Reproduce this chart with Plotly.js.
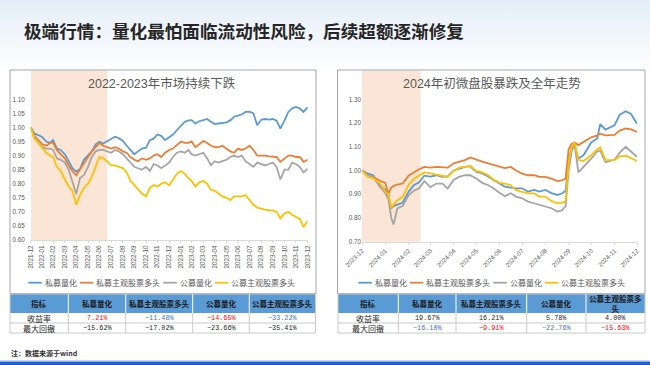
<!DOCTYPE html>
<html><head><meta charset="utf-8">
<script src="https://cdn.plot.ly/plotly-3.0.1.min.js"></script>
<style>
html,body{margin:0;padding:0;width:650px;height:365px;overflow:hidden;
background:linear-gradient(to bottom,#e4edf9 0px,#eef4fb 25px,#f8fafd 55px,#ffffff 75px);}
#chart{width:650px;height:365px;}
</style></head><body><div id="chart"></div>
<script>
// ---------------- DATA ----------------
const seriesNames = ['私募量化','私募主观股票多头','公募量化','公募主观股票多头'];
const pageTitle = '极端行情：量化最怕面临流动性风险，后续超额逐渐修复';
const leftTitle = '2022-2023年市场持续下跌';
const rightTitle = '2024年初微盘股暴跌及全年走势';
const noteText = '注：数据来源于wind';

const leftShade = ['2021-12-31','2022-07-21'];
const rightShade = ['2023-12-29','2024-03-16'];

const leftTickDates = ['2021-12-31','2022-01-31','2022-02-28','2022-03-31','2022-04-30','2022-05-31','2022-06-30','2022-07-31','2022-08-31','2022-09-30','2022-10-31','2022-11-30','2022-12-31','2023-01-31','2023-02-28','2023-03-31','2023-04-30','2023-05-31','2023-06-30','2023-07-31','2023-08-31','2023-09-30','2023-10-31','2023-11-30','2023-12-31'];
const leftTickLabels = ['2021-12','2022-01','2022-02','2022-03','2022-04','2022-05','2022-06','2022-07','2022-08','2022-09','2022-10','2022-11','2022-12','2023-01','2023-02','2023-03','2023-04','2023-05','2023-06','2023-07','2023-08','2023-09','2023-10','2023-11','2023-12'];

const leftDates = ['2021-12-31',
'2022-01-10','2022-01-20','2022-01-31','2022-02-10','2022-02-20','2022-02-28','2022-03-10','2022-03-20','2022-03-31',
'2022-04-10','2022-04-20','2022-04-30','2022-05-10','2022-05-20','2022-05-31','2022-06-10','2022-06-20','2022-06-30',
'2022-07-10','2022-07-20','2022-07-31','2022-08-10','2022-08-20','2022-08-31','2022-09-10','2022-09-20','2022-09-30',
'2022-10-10','2022-10-20','2022-10-31','2022-11-10','2022-11-20','2022-11-30','2022-12-10','2022-12-20','2022-12-31',
'2023-01-10','2023-01-20','2023-01-31','2023-02-10','2023-02-20','2023-02-28','2023-03-10','2023-03-20','2023-03-31',
'2023-04-10','2023-04-20','2023-04-30','2023-05-10','2023-05-20','2023-05-31','2023-06-10','2023-06-20','2023-06-30',
'2023-07-10','2023-07-20','2023-07-31','2023-08-10','2023-08-20','2023-08-31','2023-09-10','2023-09-20','2023-09-30',
'2023-10-10','2023-10-20','2023-10-31','2023-11-10','2023-11-20','2023-11-30','2023-12-10','2023-12-20','2023-12-31'];

const leftPrivQuant = [1.000,0.978,0.973,0.965,0.950,0.945,0.955,0.925,0.920,0.905,
0.880,0.855,0.843,0.852,0.885,0.900,0.915,0.940,0.949,0.943,
0.950,0.958,0.967,0.962,0.952,0.935,0.919,0.905,0.915,0.925,
0.928,0.955,0.960,0.975,0.970,0.955,0.965,0.975,0.990,1.005,
1.020,1.025,1.026,1.014,1.022,1.026,1.030,1.020,1.012,1.014,
1.016,1.018,1.025,1.038,1.042,1.046,1.055,1.056,1.050,1.008,
1.028,1.030,1.028,1.030,1.024,0.996,1.025,1.055,1.068,1.073,
1.068,1.055,1.0721];
const leftPrivStock = [1.000,0.970,0.955,0.940,0.935,0.945,0.945,0.920,0.905,0.890,
0.865,0.845,0.830,0.850,0.870,0.895,0.915,0.930,0.945,0.935,
0.930,0.925,0.930,0.925,0.915,0.910,0.895,0.885,0.880,0.890,
0.885,0.890,0.900,0.905,0.895,0.910,0.920,0.925,0.937,0.950,
0.945,0.945,0.950,0.930,0.940,0.952,0.945,0.935,0.930,0.930,
0.935,0.925,0.915,0.910,0.925,0.920,0.925,0.935,0.920,0.900,
0.900,0.900,0.897,0.895,0.895,0.878,0.890,0.900,0.900,0.895,
0.895,0.878,0.8852];
const leftPubQuant = [1.000,0.965,0.950,0.930,0.925,0.925,0.920,0.890,0.885,0.875,
0.850,0.810,0.7634,0.820,0.830,0.860,0.895,0.915,0.920,0.920,
0.915,0.910,0.920,0.915,0.905,0.890,0.875,0.860,0.855,0.850,
0.860,0.845,0.870,0.865,0.855,0.865,0.875,0.895,0.910,0.915,
0.910,0.920,0.905,0.900,0.905,0.910,0.890,0.866,0.880,0.875,
0.880,0.885,0.895,0.900,0.895,0.900,0.880,0.870,0.860,0.875,
0.870,0.865,0.870,0.875,0.860,0.815,0.850,0.850,0.875,0.870,
0.860,0.840,0.8535];
const leftPubStock = [1.000,0.960,0.945,0.925,0.910,0.900,0.895,0.860,0.845,0.815,
0.790,0.775,0.725,0.760,0.785,0.800,0.825,0.860,0.895,0.890,
0.880,0.865,0.865,0.860,0.855,0.840,0.810,0.795,0.780,0.765,
0.755,0.785,0.795,0.790,0.800,0.805,0.795,0.815,0.835,0.845,
0.835,0.820,0.810,0.790,0.805,0.810,0.800,0.778,0.775,0.765,
0.755,0.750,0.742,0.755,0.755,0.755,0.760,0.740,0.725,0.715,
0.710,0.708,0.705,0.705,0.700,0.677,0.695,0.700,0.690,0.683,
0.675,0.646,0.6678];

const rightTickDates = ['2023-12-29','2024-01-29','2024-02-29','2024-03-29','2024-04-29','2024-05-29','2024-06-29','2024-07-29','2024-08-29','2024-09-29','2024-10-29','2024-11-29','2024-12-29'];
const rightTickLabels = ['2023-12','2024-01','2024-02','2024-03','2024-04','2024-05','2024-06','2024-07','2024-08','2024-09','2024-10','2024-11','2024-12'];

const rightDates = ['2023-12-29','2024-01-05','2024-01-13','2024-01-21','2024-01-29','2024-02-02','2024-02-06','2024-02-09','2024-02-14','2024-02-21',
'2024-02-29','2024-03-07','2024-03-14','2024-03-21','2024-03-29','2024-04-06','2024-04-14','2024-04-21','2024-04-29','2024-05-06',
'2024-05-14','2024-05-21','2024-05-29','2024-06-06','2024-06-14','2024-06-21','2024-06-29','2024-07-06','2024-07-14','2024-07-21',
'2024-07-29','2024-08-06','2024-08-14','2024-08-21','2024-08-29','2024-09-06','2024-09-14','2024-09-20','2024-09-25','2024-09-29',
'2024-10-03','2024-10-07','2024-10-12','2024-10-19','2024-10-29','2024-11-06','2024-11-10','2024-11-17','2024-11-29','2024-12-06',
'2024-12-14','2024-12-21','2024-12-29'];

const rightPrivQuant = [1.000,0.988,0.980,0.940,0.920,0.900,0.840,0.850,0.856,0.864,
0.910,0.938,0.950,0.978,0.974,0.980,0.973,0.975,1.000,1.008,
1.015,1.018,0.995,0.988,0.975,0.960,0.945,0.932,0.928,0.925,
0.925,0.911,0.918,0.911,0.918,0.905,0.897,0.903,0.915,1.040,
1.095,1.105,1.050,1.065,1.118,1.135,1.195,1.172,1.190,1.235,
1.250,1.238,1.1967];
const rightPrivStock = [1.000,0.980,0.973,0.958,0.948,0.901,0.928,0.935,0.940,0.945,
0.978,0.992,1.005,1.015,1.012,1.015,1.013,1.012,1.030,1.037,
1.044,1.055,1.045,1.037,1.030,1.023,1.015,1.010,1.015,1.000,
0.987,0.980,0.980,0.973,0.973,0.966,0.955,0.958,0.966,1.090,
1.112,1.118,1.107,1.120,1.140,1.148,1.155,1.148,1.150,1.168,
1.177,1.173,1.1621];
const rightPubQuant = [1.000,0.980,0.973,0.935,0.905,0.880,0.800,0.7724,0.840,0.850,
0.895,0.915,0.925,0.955,0.930,0.945,0.945,0.925,0.960,0.973,
0.980,0.980,0.966,0.948,0.938,0.925,0.906,0.892,0.904,0.890,
0.883,0.869,0.862,0.855,0.848,0.841,0.827,0.832,0.850,1.000,
1.080,1.110,0.992,1.015,1.050,1.080,1.085,1.035,1.045,1.075,
1.100,1.080,1.0578];
const rightPubStock = [1.000,0.975,0.966,0.950,0.912,0.900,0.8437,0.855,0.875,0.888,
0.940,0.965,0.978,0.992,0.988,0.982,0.975,0.973,0.998,1.012,
1.015,1.020,0.998,0.992,0.980,0.962,0.948,0.945,0.938,0.917,
0.910,0.904,0.904,0.890,0.890,0.872,0.862,0.864,0.870,1.030,
1.100,1.118,1.045,1.040,1.064,1.090,1.098,1.045,1.044,1.060,
1.062,1.052,1.0400];

const tableHeaders = ['指标','私募量化','私募主观股票多头','公募量化','公募主观股票多头'];
const rowLabels = ['收益率','最大回撤'];
const leftReturn = [7.21,-11.48,-14.65,-33.22];
const leftMaxDD = [-15.62,-17.02,-23.66,-35.41];
const rightReturn = [19.67,16.21,5.78,4.00];
const rightMaxDD = [-16.10,-9.91,-22.76,-15.63];

// ---------------- STYLE ----------------
const COLORS = ['#5B9BD5','#ED7D31','#A5A5A5','#FFC000'];
const RED = '#FF0000', BLUE = '#4472C4', BLK = '#262626';
const leftRetColors = [RED, BLUE, RED, BLUE];
const leftDDColors = [BLK, BLK, BLK, BLK];
const rightRetColors = [BLK, BLK, BLK, BLK];
const rightDDColors = [BLUE, RED, BLUE, RED];

const NUMF = "'Liberation Sans', 'Noto Sans CJK SC', Arial, sans-serif";
const CJKF = "'Noto Sans CJK SC', 'Liberation Sans', sans-serif";
const MONOF = "'Liberation Mono', 'DejaVu Sans Mono', monospace";
const W = 650, H = 365;
const px = x => x / W, py = y => 1 - y / H;

// ---------------- TRACES ----------------
const leftSeries = [leftPrivQuant, leftPrivStock, leftPubQuant, leftPubStock];
const rightSeries = [rightPrivQuant, rightPrivStock, rightPubQuant, rightPubStock];
const traces = [];
leftSeries.forEach((ys, i) => traces.push({
  type: 'scatter', mode: 'lines', x: leftDates, y: ys, name: seriesNames[i],
  xaxis: 'x', yaxis: 'y', line: {color: COLORS[i], width: 1.8}, hoverinfo: 'skip', showlegend: false
}));
rightSeries.forEach((ys, i) => traces.push({
  type: 'scatter', mode: 'lines', x: rightDates, y: ys, name: seriesNames[i],
  xaxis: 'x2', yaxis: 'y2', line: {color: COLORS[i], width: 1.8}, hoverinfo: 'skip', showlegend: false
}));

// ---------------- SHAPES / ANNOTATIONS ----------------
const shapes = [];
const annotations = [];

// bottom bar
shapes.push({type:'rect', xref:'paper', yref:'paper', x0:0, x1:1, y0:py(365), y1:py(361.5), fillcolor:'#1f5fd8', line:{width:0}});
shapes.push({type:'rect', xref:'paper', yref:'paper', x0:0, x1:1, y0:py(361.5), y1:py(360.5), fillcolor:'#8fb0ee', line:{width:0}});

// shaded periods
shapes.push({type:'rect', xref:'x', yref:'paper', x0:leftShade[0], x1:leftShade[1], y0:py(240), y1:py(70.5), fillcolor:'#FBE5D6', line:{width:0}, layer:'below'});
shapes.push({type:'rect', xref:'x2', yref:'paper', x0:rightShade[0], x1:rightShade[1], y0:py(241.7), y1:py(70.5), fillcolor:'#FBE5D6', line:{width:0}, layer:'below'});

// frames
shapes.push({type:'rect', xref:'paper', yref:'paper', x0:px(10), x1:px(316), y0:py(293.5), y1:py(70), line:{color:'#a6a6a6', width:1}, fillcolor:'rgba(0,0,0,0)'});
shapes.push({type:'rect', xref:'paper', yref:'paper', x0:px(337.5), x1:px(645), y0:py(293.5), y1:py(70), line:{color:'#a6a6a6', width:1}, fillcolor:'rgba(0,0,0,0)'});

// titles
annotations.push({xref:'paper', yref:'paper', x:px(22.5), y:py(31), xanchor:'left', yanchor:'middle', showarrow:false,
  text:'<b>' + pageTitle + '</b>', font:{family:CJKF, size:17.6, color:'#262626'}, borderpad:0});
annotations.push({xref:'paper', yref:'paper', x:px(162), y:py(83.5), xanchor:'center', yanchor:'middle', showarrow:false,
  text:leftTitle, font:{family:NUMF, size:12.5, color:'#595959'}, borderpad:0});
annotations.push({xref:'paper', yref:'paper', x:px(492), y:py(83.5), xanchor:'center', yanchor:'middle', showarrow:false,
  text:rightTitle, font:{family:NUMF, size:12.5, color:'#595959'}, borderpad:0});
annotations.push({xref:'paper', yref:'paper', x:px(10), y:py(353.3), xanchor:'left', yanchor:'middle', showarrow:false,
  text:'<b>' + noteText + '</b>', font:{family:CJKF, size:7, color:'#333333'}, borderpad:0});

// legends (manual, compact)
function addLegend(x0, yc) {
  let x = x0;
  seriesNames.forEach((nm, i) => {
    shapes.push({type:'line', xref:'paper', yref:'paper', x0:px(x), x1:px(x + 13.5), y0:py(yc), y1:py(yc), line:{color:COLORS[i], width:1.8}});
    annotations.push({xref:'paper', yref:'paper', x:px(x + 15.5), y:py(yc), xanchor:'left', yanchor:'middle', showarrow:false,
      text:nm, font:{family:CJKF, size:8, color:'#595959'}, borderpad:0});
    x += 15.5 + nm.length * 8 + 4;
  });
}
addLegend(28.3, 282.7);
addLegend(358.3, 282.7);

// tables
const fmtPct = v => (v < 0 ? '\u2212' : '') + Math.abs(v).toFixed(2) + '%';
function wrapText(t, colW, fs) {
  const per = Math.floor((colW - 2) / fs);
  if (t.length <= per) return t;
  const parts = [];
  for (let i = 0; i < t.length; i += per) parts.push(t.slice(i, i + per));
  return parts.join('<br>');
}
function addTable(cols, rows, retVals, ddVals, retColors, ddColors) {
  const xL = cols[0], xR = cols[cols.length - 1];
  shapes.push({type:'rect', xref:'paper', yref:'paper', x0:px(xL), x1:px(xR), y0:py(rows[1]), y1:py(rows[0]), fillcolor:'#5B9BD5', line:{width:0}});
  shapes.push({type:'rect', xref:'paper', yref:'paper', x0:px(xL), x1:px(xR), y0:py(rows[3]), y1:py(rows[1]), fillcolor:'#ffffff', line:{width:0}});
  for (let c = 1; c < cols.length - 1; c++) {
    shapes.push({type:'line', xref:'paper', yref:'paper', x0:px(cols[c]), x1:px(cols[c]), y0:py(rows[1]), y1:py(rows[0]), line:{color:'#ffffff', width:1}});
    shapes.push({type:'line', xref:'paper', yref:'paper', x0:px(cols[c]), x1:px(cols[c]), y0:py(rows[3]), y1:py(rows[1]), line:{color:'#c9c9c9', width:1}});
  }
  shapes.push({type:'line', xref:'paper', yref:'paper', x0:px(xL), x1:px(xR), y0:py(rows[2]), y1:py(rows[2]), line:{color:'#c9c9c9', width:1}});
  shapes.push({type:'rect', xref:'paper', yref:'paper', x0:px(xL), x1:px(xR), y0:py(rows[3]), y1:py(rows[0]), line:{color:'#c9c9c9', width:1}, fillcolor:'rgba(0,0,0,0)'});
  tableHeaders.forEach((h, c) => {
    const cx = (cols[c] + cols[c + 1]) / 2;
    annotations.push({xref:'paper', yref:'paper', x:px(cx), y:py((rows[0] + rows[1]) / 2), xanchor:'center', yanchor:'middle', showarrow:false,
      text:'<b>' + wrapText(h, cols[c + 1] - cols[c], 7.5) + '</b>', font:{family:CJKF, size:7.5, color:'#1a1a1a'}, borderpad:0});
  });
  const bodies = [[retVals, retColors], [ddVals, ddColors]];
  bodies.forEach((b, r) => {
    const cy = (rows[r + 1] + rows[r + 2]) / 2;
    annotations.push({xref:'paper', yref:'paper', x:px((cols[0] + cols[1]) / 2), y:py(cy), xanchor:'center', yanchor:'middle', showarrow:false,
      text:rowLabels[r], font:{family:CJKF, size:8, color:'#262626'}, borderpad:0});
    b[0].forEach((v, c) => {
      annotations.push({xref:'paper', yref:'paper', x:px((cols[c + 1] + cols[c + 2]) / 2), y:py(cy), xanchor:'center', yanchor:'middle', showarrow:false,
        text:fmtPct(v), font:{family:MONOF, size:6.8, color:b[1][c]}, borderpad:0});
    });
  });
}
addTable([10, 68.3, 125.7, 192.7, 249.3, 315.5], [294, 313, 323, 333], leftReturn, leftMaxDD, leftRetColors, leftDDColors);
addTable([338, 398.3, 456, 526.7, 586, 645], [294, 313, 323, 333], rightReturn, rightMaxDD, rightRetColors, rightDDColors);

// ---------------- LAYOUT ----------------
const tickF = {family:NUMF, size:6.3, color:'#595959'};
const layout = {
  width: W, height: H, margin:{l:0, r:0, t:0, b:0},
  paper_bgcolor:'rgba(0,0,0,0)', plot_bgcolor:'rgba(0,0,0,0)', showlegend:false,
  xaxis:{domain:[px(30.7), px(307.7)], type:'date', range:[leftTickDates[0], leftTickDates[leftTickDates.length - 1]],
    tickmode:'array', tickvals:leftTickDates, ticktext:leftTickLabels, tickangle:-90, tickfont:tickF,
    showgrid:false, zeroline:false, showline:true, linecolor:'#d9d9d9', linewidth:1, ticks:'outside', ticklen:2, tickcolor:'#d9d9d9', anchor:'y', fixedrange:true},
  yaxis:{domain:[py(240), py(99.3)], range:[0.6, 1.1], tick0:0.6, dtick:0.05, tickformat:'.2f', tickfont:tickF,
    showgrid:false, zeroline:false, showline:false, ticks:'', ticklabelstandoff:5, anchor:'x', fixedrange:true},
  xaxis2:{domain:[px(362), px(637)], type:'date', range:[rightTickDates[0], rightTickDates[rightTickDates.length - 1]],
    tickmode:'array', tickvals:rightTickDates, ticktext:rightTickLabels, tickangle:-45, tickfont:tickF,
    showgrid:false, zeroline:false, showline:true, linecolor:'#d9d9d9', linewidth:1, ticks:'outside', ticklen:2, tickcolor:'#d9d9d9', anchor:'y2', fixedrange:true},
  yaxis2:{domain:[py(241.7), py(99.3)], range:[0.7, 1.3], tick0:0.7, dtick:0.1, tickformat:'.2f', tickfont:tickF,
    showgrid:false, zeroline:false, showline:false, ticks:'', ticklabelstandoff:0, anchor:'x2', fixedrange:true},
  shapes: shapes,
  annotations: annotations
};

Plotly.newPlot('chart', traces, layout, {staticPlot:true, displayModeBar:false});
</script></body></html>
